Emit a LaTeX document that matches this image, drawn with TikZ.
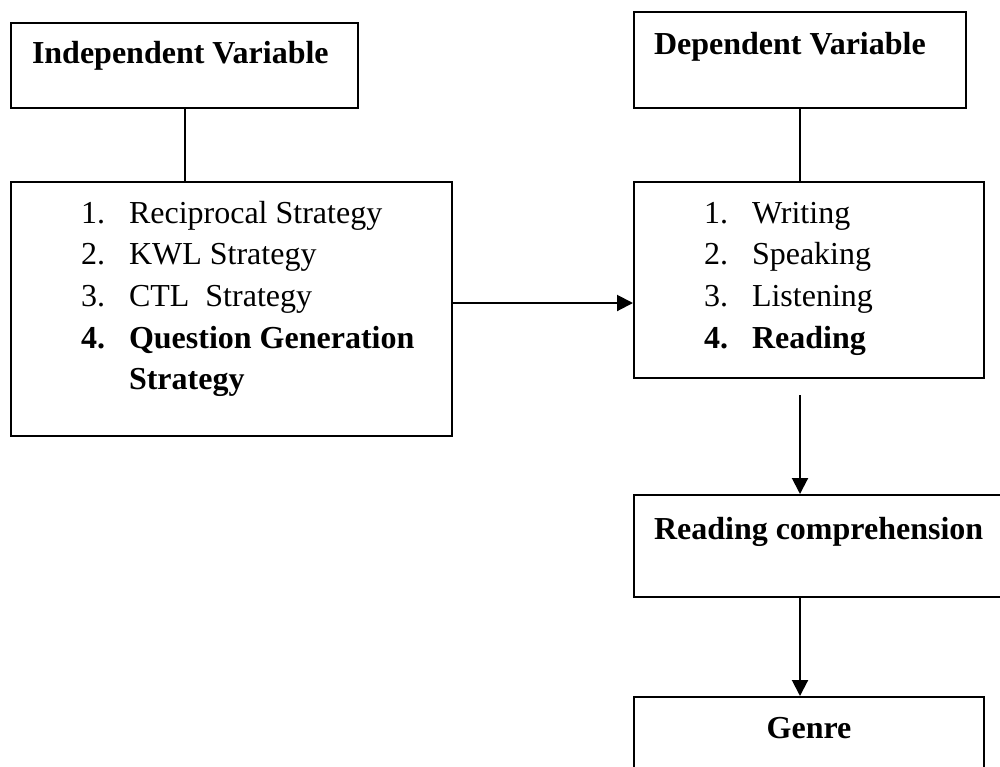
\documentclass[tikz,border=0pt]{standalone}
\usepackage{fontspec}
\setmainfont{Liberation Serif}
\usepackage{tikz}
\usetikzlibrary{arrows.meta, positioning}

\newcommand{\listrow}[2]{\hspace*{35pt}\makebox[24pt][l]{#1}#2}

\begin{document}
\begin{tikzpicture}[x=0.5pt, y=-0.5pt,
    varbox/.style={draw, line width=1pt, inner sep=0pt, anchor=north west, font=\fontsize{16pt}{20.85pt}\selectfont},
    link/.style={line width=1pt},
    arrow/.style={line width=1pt, -{Triangle[length=8pt, width=8pt]}}]
    \path[use as bounding box, clip] (0,0) rectangle (1000,766);

    % Define boxes
    \node[varbox] (indep) at (10,22) {\parbox[t][42.5pt][t]{173.5pt}{\rule{0pt}{20pt}\hspace*{10.5pt}\textbf{Independent Variable}}};
    \node[varbox] (dep) at (633,11) {\parbox[t][48pt][t]{166pt}{\rule{0pt}{21pt}\hspace*{10pt}\textbf{Dependent Variable}}};
    \node[varbox] (strat) at (10,181) {\parbox[t][127pt][t]{220.5pt}{\rule{0pt}{20.5pt}\listrow{1.}{Reciprocal Strategy}\\
        \listrow{2.}{KWL Strategy}\\
        \listrow{3.}{CTL\ \ Strategy}\\
        \listrow{\textbf{4.}}{\textbf{Question Generation}}\\
        \hspace*{59pt}\textbf{Strategy}}};
    \node[varbox] (skill) at (633,181) {\parbox[t][98pt][t]{175pt}{\rule{0pt}{20.5pt}\listrow{1.}{Writing}\\
        \listrow{2.}{Speaking}\\
        \listrow{3.}{Listening}\\
        \listrow{\textbf{4.}}{\textbf{Reading}}}};
    \node[varbox] (reading) at (633,494) {\parbox[t][51pt][t]{188.5pt}{\rule{0pt}{22pt}\hspace*{10pt}\textbf{Reading comprehension}}};
    \node[varbox] (genre) at (633,696) {\parbox[t][52pt][t]{175pt}{\centering\rule{0pt}{20.5pt}\textbf{Genre}}};

    % Draw connectors
    \draw[link] (indep.south) -- (indep.south |- strat.north);
    \draw[link] (dep.south) -- (dep.south |- skill.north);
    \draw[arrow] ([yshift=3pt]strat.east) -- ([yshift=3pt]strat.east -| skill.west);
    \draw[arrow, shorten <=8pt] (dep.south |- skill.south) -- (dep.south |- reading.north);
    \draw[arrow] (dep.south |- reading.south) -- (dep.south |- genre.north);
\end{tikzpicture}
\end{document}
